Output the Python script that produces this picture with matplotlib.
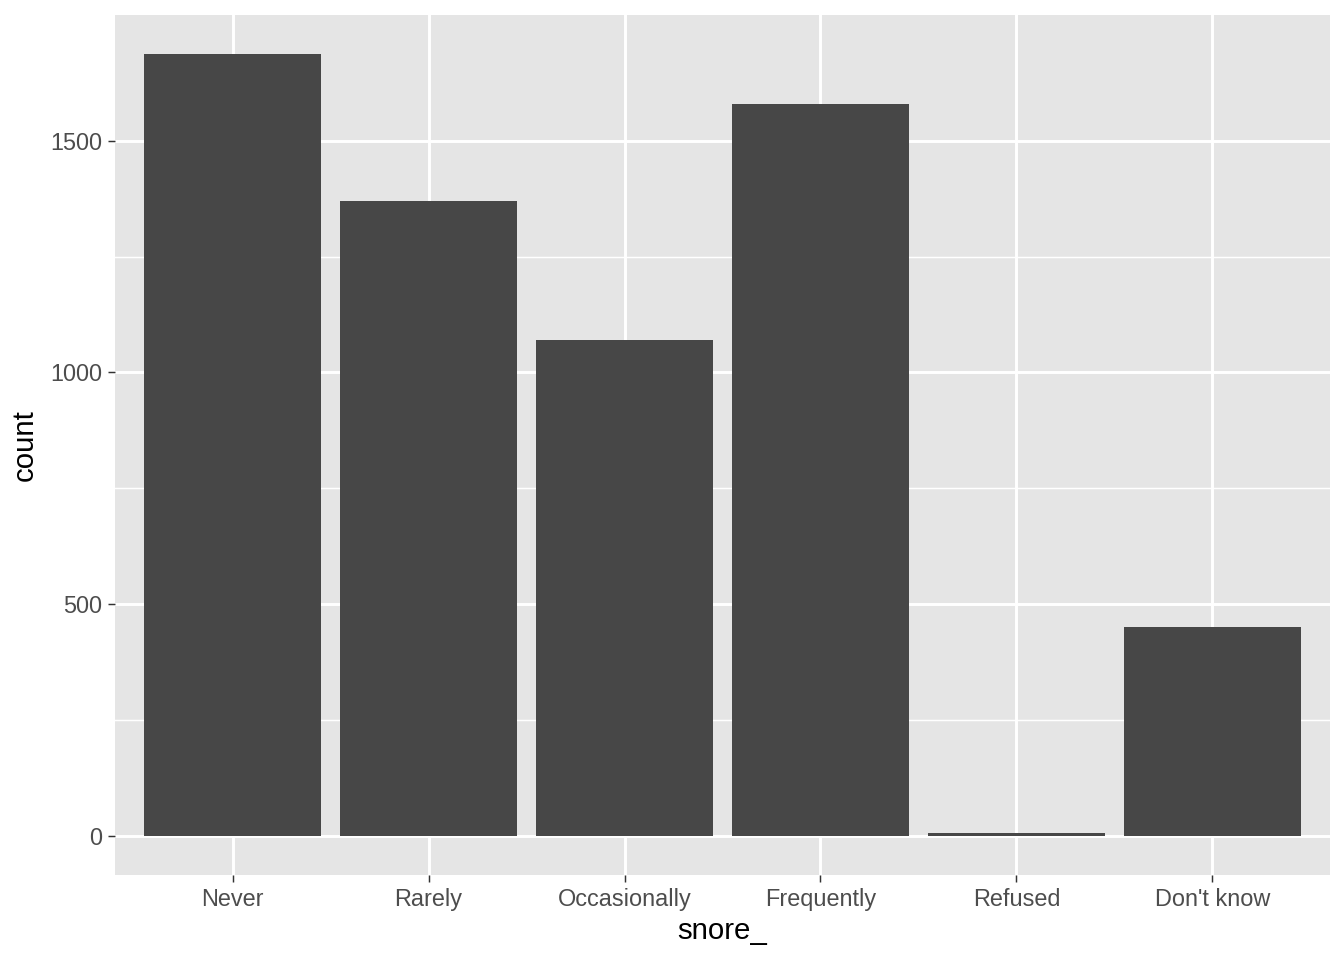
import numpy as np
import matplotlib.pyplot as plt

# snore_ counts
categories = ['Never', 'Rarely', 'Occasionally', 'Frequently', 'Refused', "Don't know"]
counts = [1687, 1371, 1069, 1580, 7, 450]

plt.rcParams['font.family'] = ['Liberation Sans', 'DejaVu Sans']

fig = plt.figure(figsize=(7, 5), dpi=192)
ax = fig.add_axes([115 / 1344, 1 - 875 / 960, 1215 / 1344, 860 / 960])

x = np.arange(len(categories))
ax.bar(x, counts, width=0.9, color='#474747', zorder=3)

# ggplot-like expansion
top = max(counts)
ax.set_xlim(-0.6, len(categories) - 0.4)
ax.set_ylim(-0.05 * top, 1.05 * top)

ax.set_facecolor('#E5E5E5')
for s in ax.spines.values():
    s.set_visible(False)

ax.set_yticks([0, 500, 1000, 1500])
ax.set_yticks([250, 750, 1250], minor=True)
ax.set_xticks(x)
ax.set_xticklabels(categories)
ax.grid(which='major', color='white', linewidth=1.1, zorder=0)
ax.grid(which='minor', axis='y', color='white', linewidth=0.55, zorder=0)
ax.tick_params(which='major', length=2.75 * 72 / 72 * 1.0, width=0.55, color='#333333',
               labelsize=8.8, labelcolor='#4D4D4D', pad=2.2)
ax.tick_params(which='minor', length=0)

ax.set_xlabel('snore_', fontsize=11, color='black', labelpad=2)
ax.set_ylabel('count', fontsize=11, color='black', labelpad=4)

fig.savefig('out.png', dpi=192)
